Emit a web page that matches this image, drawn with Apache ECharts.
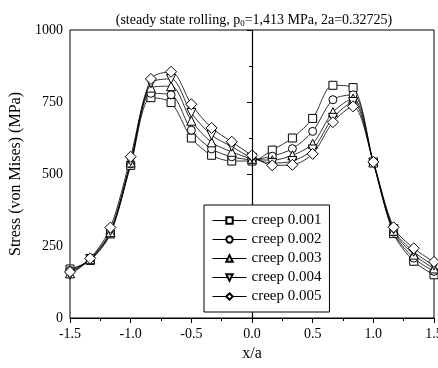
<!DOCTYPE html>
<html>
<head>
<meta charset="utf-8">
<script src="https://cdn.jsdelivr.net/npm/echarts@6/dist/echarts.min.js"></script>
<style>
  html, body { margin: 0; padding: 0; background: #fff; }
  #chart { width: 438px; height: 368px; }
</style>
</head>
<body>
<div id="chart"></div>
<script>
// x/a positions of the computed points
var xPos = [-1.5, -1.333, -1.167, -1.0, -0.833, -0.667, -0.5, -0.333, -0.167, 0,
            0.167, 0.333, 0.5, 0.667, 0.833, 1.0, 1.167, 1.333, 1.5];

// von Mises stress (MPa) for each creep level
var creep001 = [170, 200, 292, 530, 765, 748, 625, 565, 545, 545, 583, 625, 693, 808, 800, 540, 293, 197, 150];
var creep002 = [165, 202, 295, 535, 780, 775, 652, 587, 560, 550, 562, 588, 648, 758, 775, 540, 298, 208, 162];
var creep003 = [155, 204, 298, 540, 800, 805, 685, 610, 577, 553, 548, 565, 605, 715, 762, 540, 303, 220, 172];
var creep004 = [150, 205, 302, 545, 815, 830, 712, 635, 595, 556, 538, 545, 585, 695, 750, 540, 308, 230, 182];
var creep005 = [160, 207, 314, 560, 830, 855, 742, 660, 612, 565, 530, 532, 570, 680, 735, 542, 315, 242, 195];

var seriesNames = ['creep 0.001', 'creep 0.002', 'creep 0.003', 'creep 0.004', 'creep 0.005'];
var seriesData = [creep001, creep002, creep003, creep004, creep005];
var symbols = ['rect', 'circle', 'triangle', 'path://M0,0 L10,0 L5,9 Z', 'diamond'];
var symbolSizes = [8, 8, 9, 9, 11];

var serif = 'Liberation Serif';

var chart = echarts.init(document.getElementById('chart'));

function pairs(ys) {
    var out = [];
    for (var i = 0; i < xPos.length; i++) {
        out.push([xPos[i], ys[i]]);
    }
    return out;
}

var series = [];
for (var i = 0; i < seriesData.length; i++) {
    var s = {
        name: seriesNames[i],
        type: 'line',
        smooth: 0.3,
        data: pairs(seriesData[i]),
        symbol: symbols[i],
        symbolSize: symbolSizes[i],
        showAllSymbol: true,
        lineStyle: { color: '#000', width: 0.8 },
        itemStyle: { color: '#fff', borderColor: '#000', borderWidth: 1 },
        emphasis: { disabled: true },
        animation: false
    };
    if (i == 0) {
        // vertical line at x/a = 0
        s.markLine = {
            silent: true,
            symbol: 'none',
            label: { show: false },
            lineStyle: { color: '#000', width: 1, type: 'solid' },
            data: [{ xAxis: 0 }]
        };
    }
    series.push(s);
}

var option = {
    backgroundColor: '#fff',
    animation: false,
    title: {
        text: '(steady state rolling, p{sub|0}=1,413 MPa, 2a=0.32725)',
        left: 249,
        textAlign: 'center',
        top: 8,
        textStyle: {
            fontFamily: serif,
            fontSize: 14,
            fontWeight: 'normal',
            color: '#000',
            rich: {
                sub: { fontFamily: serif, fontSize: 9, color: '#000', verticalAlign: 'bottom', padding: [6, 0, 0, 0] }
            }
        }
    },
    legend: {
        orient: 'vertical',
        left: 204,
        top: 205,
        padding: [8, 8, 8, 8],
        itemGap: 4,
        itemWidth: 34,
        itemHeight: 8,
        borderColor: '#000',
        borderWidth: 1,
        backgroundColor: '#fff',
        z: 10,
        lineStyle: { width: 1 },
        textStyle: { fontFamily: serif, fontSize: 15, color: '#000' },
        data: seriesNames
    },
    grid: {
        left: 70,
        right: 4,
        top: 30,
        bottom: 50,
        outerBoundsMode: 'none',
        containLabel: false,
        show: true,
        borderColor: '#000',
        borderWidth: 1
    },
    xAxis: {
        type: 'value',
        min: -1.5,
        max: 1.5,
        interval: 0.5,
        name: 'x/a',
        nameLocation: 'middle',
        nameGap: 27,
        nameTextStyle: { fontFamily: serif, fontSize: 16, color: '#000' },
        axisLine: { lineStyle: { color: '#000', width: 1.2 } },
        axisTick: { inside: false, length: 5, lineStyle: { color: '#000' } },
        minorTick: { show: true, splitNumber: 2, length: 3, lineStyle: { color: '#000' } },
        splitLine: { show: false },
        axisLabel: {
            fontFamily: serif, fontSize: 14, color: '#000', margin: 9,
            hideOverlap: false,
            formatter: function (v) { return v.toFixed(1); }
        }
    },
    yAxis: {
        type: 'value',
        min: 0,
        max: 1000,
        interval: 250,
        name: 'Stress (von Mises) (MPa)',
        nameLocation: 'middle',
        nameGap: 42,
        nameTextStyle: { fontFamily: serif, fontSize: 16, color: '#000' },
        axisLine: { show: true, lineStyle: { color: '#000', width: 1.2 } },
        axisTick: { show: true, inside: false, length: 5, lineStyle: { color: '#000' } },
        minorTick: { show: true, splitNumber: 2, length: 3, lineStyle: { color: '#000' } },
        splitLine: { show: false },
        axisLabel: {
            fontFamily: serif, fontSize: 14, color: '#000', margin: 7,
            formatter: function (v) { return String(v); }
        }
    },
    series: series
};

chart.setOption(option);
</script>
</body>
</html>
